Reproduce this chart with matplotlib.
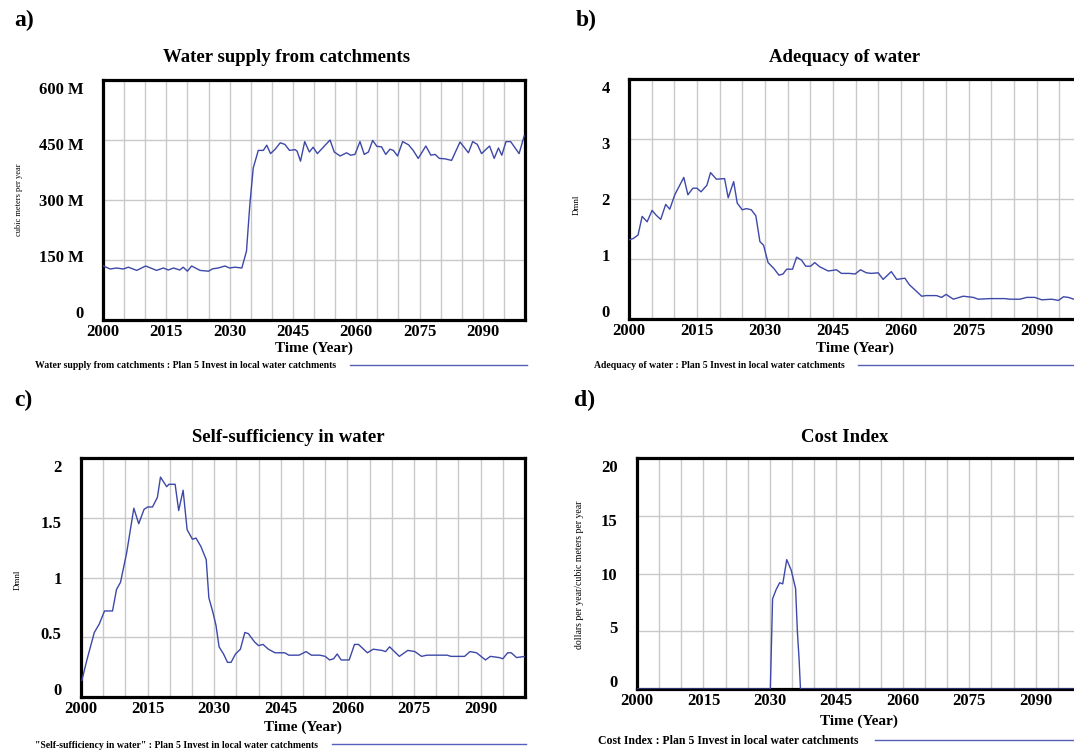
import matplotlib
matplotlib.use("Agg")
import matplotlib.pyplot as plt
import numpy as np
from matplotlib.ticker import MultipleLocator, FixedLocator

plt.rcParams['font.family'] = ['Liberation Serif', 'DejaVu Serif']
plt.rcParams['font.weight'] = 'bold'

# ---------------- data ----------------
years_a = [2000.1, 2001.7, 2003.2, 2004.8, 2006, 2008, 2010.1, 2012.7, 2014.3, 2015.5, 2016.7,
           2018.2, 2019, 2020, 2021, 2023, 2025, 2026, 2027.3, 2028.9, 2030, 2031.3, 2032.9,
           2034, 2034.8, 2035.6, 2036.8, 2038, 2038.8, 2039.7, 2040.8, 2042, 2043.1, 2044.2,
           2045.5, 2046, 2046.8, 2047.8, 2048.9, 2049.8, 2050.8, 2053.8, 2054.8, 2056.2,
           2057.7, 2058.7, 2059.7, 2060.9, 2061.9, 2062.9, 2063.9, 2064.9, 2066, 2067, 2068,
           2068.8, 2069.8, 2071, 2072.4, 2073.5, 2074.7, 2076.5, 2077.7, 2078.7, 2079.7, 2081,
           2082.6, 2084.6, 2086.6, 2087.6, 2088.7, 2089.7, 2091.6, 2092.7, 2093.7, 2094.5,
           2095.5, 2096.6, 2098.6, 2099.8]
supply_M = [135, 127.5, 130, 127.5, 132, 124, 135, 124, 130, 125, 130,
            125, 132, 122, 135, 124, 122, 128, 130, 135, 130, 132, 130,
            172, 289, 380, 424, 424, 437, 416, 427, 443, 439, 424,
            426, 422, 397, 446, 420, 432, 416, 450, 420, 410,
            418, 412, 414, 446, 414, 420, 449, 434, 433, 414, 427,
            424, 410, 446, 438, 424, 404, 435, 412, 414, 404, 403,
            399, 445, 418, 446, 439, 416, 435, 404, 430, 412,
            446, 446, 416, 460]

years_b = [2000, 2000.9, 2002, 2002.9, 2004, 2005.1, 2006, 2007, 2008.1, 2009, 2010.1, 2011.2,
           2012.1, 2013, 2014.1, 2015, 2015.9, 2017.2, 2018, 2019.3, 2021.1, 2021.9, 2023.1,
           2023.9, 2025, 2025.9, 2027, 2028, 2028.9, 2029.7, 2030.7, 2032, 2033.1, 2034,
           2034.8, 2036.1, 2037, 2038.1, 2039, 2040.1, 2041, 2042.1, 2044, 2045.8, 2046.9,
           2048.7, 2049.9, 2051.1, 2052.4, 2053.5, 2055, 2056.1, 2056.8, 2057.9, 2059.1,
           2060.9, 2061.9, 2063.2, 2064.6, 2065.6, 2067.9, 2069, 2070, 2071.6, 2073.8, 2076,
           2077.1, 2079.7, 2083, 2084.1, 2086.3, 2087.8, 2089.6, 2091.1, 2093.3, 2094.8,
           2095.9, 2097, 2098.2, 2100]
adequacy = [1.32, 1.34, 1.40, 1.71, 1.62, 1.81, 1.73, 1.66, 1.91, 1.83, 2.07, 2.23,
            2.36, 2.07, 2.18, 2.18, 2.12, 2.23, 2.44, 2.33, 2.34, 2.02, 2.29,
            1.93, 1.82, 1.84, 1.82, 1.72, 1.29, 1.23, 0.94, 0.84, 0.73, 0.75,
            0.83, 0.83, 1.03, 0.98, 0.88, 0.88, 0.94, 0.87, 0.80, 0.82, 0.76,
            0.76, 0.75, 0.82, 0.77, 0.76, 0.77, 0.66, 0.71, 0.79, 0.66,
            0.68, 0.57, 0.48, 0.38, 0.39, 0.39, 0.36, 0.41, 0.33, 0.38, 0.36,
            0.33, 0.34, 0.34, 0.33, 0.33, 0.36, 0.36, 0.32, 0.33, 0.31,
            0.37, 0.36, 0.33, 0.33]

years_c = [2000.2, 2001.4, 2003, 2004.1, 2005.3, 2007.1, 2008, 2008.9, 2010.3, 2011.9, 2013,
           2014.2, 2015, 2016.1, 2017.2, 2017.9, 2019.3, 2019.8, 2021.2, 2022, 2023, 2023.9,
           2025.1, 2025.9, 2027, 2028.2, 2028.8, 2029.7, 2030.4, 2031.1, 2032.1, 2033,
           2033.8, 2034.8, 2035.9, 2036.9, 2037.7, 2039.1, 2040, 2041, 2042.2, 2043.7,
           2045.9, 2046.8, 2049.1, 2050.7, 2051.9, 2053.8, 2055, 2056, 2056.9, 2057.7,
           2058.6, 2060.4, 2061.6, 2062.5, 2064.5, 2065.8, 2067.8, 2068.6, 2069.5, 2071.7,
           2073.6, 2075.2, 2076.7, 2077.9, 2082.5, 2083.3, 2086.4, 2087.6, 2089.1, 2091.1,
           2092.2, 2094.2, 2095, 2096.1, 2096.9, 2098.1, 2100]
self_suff = [0.14, 0.32, 0.54, 0.61, 0.72, 0.72, 0.90, 0.96, 1.21, 1.58, 1.45,
             1.57, 1.59, 1.59, 1.67, 1.84, 1.76, 1.78, 1.78, 1.56, 1.73, 1.40,
             1.32, 1.33, 1.26, 1.15, 0.83, 0.71, 0.60, 0.42, 0.36, 0.29,
             0.29, 0.36, 0.40, 0.54, 0.53, 0.46, 0.43, 0.44, 0.40, 0.37,
             0.37, 0.35, 0.35, 0.38, 0.35, 0.35, 0.34, 0.31, 0.32, 0.36,
             0.31, 0.31, 0.44, 0.44, 0.37, 0.40, 0.39, 0.38, 0.42, 0.34,
             0.39, 0.38, 0.34, 0.35, 0.35, 0.34, 0.34, 0.38, 0.37, 0.31,
             0.34, 0.33, 0.32, 0.37, 0.37, 0.33, 0.34]

years_d = [2000, 2030.1, 2030.6, 2031.4, 2032.2, 2032.9, 2033.8, 2034.8, 2035.8, 2036.2,
           2036.6, 2036.9, 2100]
cost_index = [0, 0, 7.8, 8.6, 9.2, 9.1, 11.2, 10.3, 8.7, 5.0, 2.5, 0, 0]

x_labels = [2000, 2015, 2030, 2045, 2060, 2075, 2090]

# ---------------- layout ----------------
W, H = 1074, 751
fig = plt.figure(figsize=(W / 100, H / 100), dpi=100)


def box(l, t, w, h):
    return [l / W, 1 - (t + h) / H, w / W, h / H]


LINE = '#3d48a8'
LEGLINE = '#5560b8'
GRID = '#c9c9c9'

panels = [
    dict(rect=box(103, 80, 422, 240), data=(years_a, np.array(supply_M) * 1e6), ylim=(0, 600e6),
         yticks=[0, 150e6, 300e6, 450e6, 600e6], ylabels=['0', '150 M', '300 M', '450 M', '600 M'],
         title='Water supply from catchments', title_xy=(287, 58), tag='a)', tag_xy=(14, 20),
         ylab='cubic meters per year', ylab_xy=(19, 200), ylab_fs=6,
         leg='Water supply from catchments : Plan 5 Invest in local water catchments',
         leg_xy=(35, 366), hl=18.2, legfs=7, xlab_x=314, xlab_y=348),
    dict(rect=box(629, 79, 453, 240), data=(years_b, adequacy), ylim=(0, 4),
         yticks=[0, 1, 2, 3, 4], ylabels=['0', '1', '2', '3', '4'],
         title='Adequacy of water', title_xy=(845, 58), tag='b)', tag_xy=(576, 20),
         ylab='Dmnl', ylab_xy=(577, 205), ylab_fs=6.5,
         leg='Adequacy of water : Plan 5 Invest in local water catchments',
         leg_xy=(594, 366), hl=30, legfs=7, xlab_x=855, xlab_y=348),
    dict(rect=box(81, 458, 444, 239), data=(years_c, self_suff), ylim=(0, 2),
         yticks=[0, 0.5, 1, 1.5, 2], ylabels=['0', '0.5', '1', '1.5', '2'],
         title='Self-sufficiency in water', title_xy=(288, 437), tag='c)', tag_xy=(14, 400),
         ylab='Dmnl', ylab_xy=(18, 580), ylab_fs=6.5,
         leg='"Self-sufficiency in water" : Plan 5 Invest in local water catchments',
         leg_xy=(35, 745), hl=20, legfs=7, xlab_x=303, xlab_y=727),
    dict(rect=box(637, 458, 443, 231), data=(years_d, cost_index), ylim=(0, 20),
         yticks=[0, 5, 10, 15, 20], ylabels=['0', '5', '10', '15', '20'],
         title='Cost Index', title_xy=(845, 437), tag='d)', tag_xy=(574, 400),
         ylab='dollars per year/cubic meters per year', ylab_xy=(580, 575), ylab_fs=7,
         leg='Cost Index : Plan 5 Invest in local water catchments',
         leg_xy=(598, 741), hl=20, legfs=8.5, xlab_x=859, xlab_y=721),
]

for p in panels:
    ax = fig.add_axes(p['rect'])
    x, y = p['data']
    ax.plot(x, y, color=LINE, lw=1.0, zorder=3, label=p['leg'])
    ax.set_xlim(2000, 2100)
    lo, hi = p['ylim']
    ax.set_ylim(lo, hi)

    # gridlines on minor locators (Vensim style: 20 x divisions, 4 y divisions)
    ax.xaxis.remove_overlapping_locs = False
    ax.yaxis.remove_overlapping_locs = False
    ax.xaxis.set_minor_locator(MultipleLocator(5))
    ax.yaxis.set_minor_locator(FixedLocator(p['yticks']))
    ax.grid(which='minor', color=GRID, lw=1.0)
    ax.grid(which='major', visible=False)
    ax.set_axisbelow(True)

    ax.set_xticks(x_labels)
    ax.set_xticklabels([str(v) for v in x_labels])
    # labels slightly inset from the ends, as drawn by Vensim
    fr = (np.array(p['yticks']) - lo) / (hi - lo)
    ax.set_yticks(lo + (hi - lo) * (0.035 + 0.93 * fr))
    ax.set_yticklabels(p['ylabels'])

    ax.tick_params(which='both', length=0)
    ax.tick_params(axis='x', labelsize=12, pad=3)
    ax.tick_params(axis='y', labelsize=12, pad=14)
    for lab in ax.get_xticklabels() + ax.get_yticklabels():
        lab.set_fontweight('bold')

    for s in ax.spines.values():
        s.set_linewidth(2.3)
        s.set_color('black')

    fig.text(p['title_xy'][0] / W, 1 - p['title_xy'][1] / H, p['title'],
             ha='center', va='center', fontsize=13.5, fontweight='bold')
    fig.text(p['tag_xy'][0] / W, 1 - p['tag_xy'][1] / H, p['tag'],
             ha='left', va='center', fontsize=17, fontweight='bold')
    fig.text(p['ylab_xy'][0] / W, 1 - p['ylab_xy'][1] / H, p['ylab'],
             ha='center', va='center', rotation=90, fontsize=p['ylab_fs'], fontweight='normal')
    fig.text(p['xlab_x'] / W, 1 - p['xlab_y'] / H, 'Time (Year)', ha='center', va='center',
             fontsize=11, fontweight='bold')

    leg = ax.legend(loc='center left',
                    bbox_to_anchor=(p['leg_xy'][0] / W, 1 - p['leg_xy'][1] / H),
                    bbox_transform=fig.transFigure, markerfirst=False, frameon=False,
                    handlelength=p['hl'], handletextpad=1.4, borderpad=0, borderaxespad=0,
                    prop={'family': 'Liberation Serif', 'weight': 'bold', 'size': p['legfs']})
    for h in leg.get_lines():
        h.set_color(LEGLINE)

fig.savefig('out.png', dpi=100)
